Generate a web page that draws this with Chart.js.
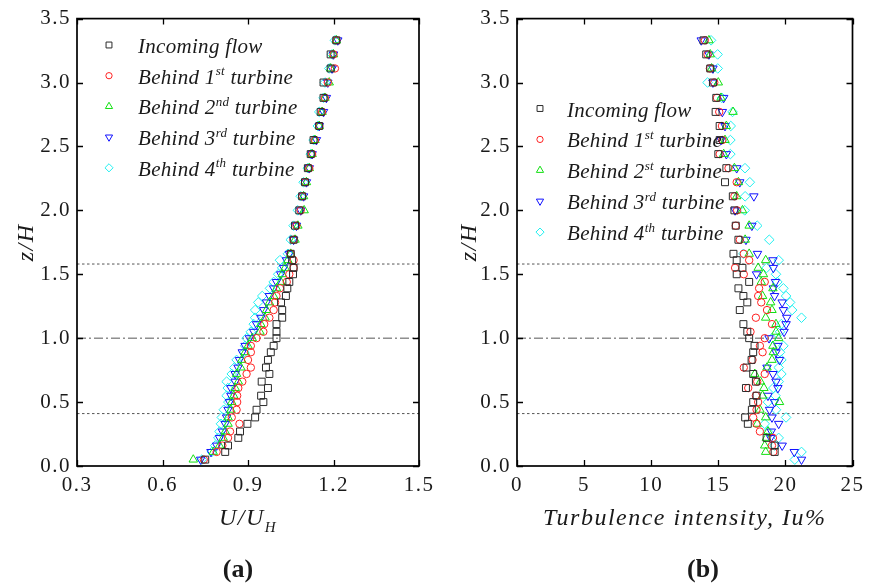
<!DOCTYPE html>
<html>
<head>
<meta charset="utf-8">
<script src="https://cdn.jsdelivr.net/npm/chart.js@4/dist/chart.umd.min.js"></script>
<style>
  html, body { margin: 0; padding: 0; background: #fff; }
  #wrap { position: relative; width: 870px; height: 584px; overflow: hidden; }
  canvas { position: absolute; top: 0; }
  #cvA { left: 0; }
  #cvB { left: 440px; }
</style>
</head>
<body>
<div id="wrap">
  <canvas id="cvA" width="440" height="584"></canvas>
  <canvas id="cvB" width="430" height="584"></canvas>
</div>
<script>
// Measurement heights (z/H), shared by every profile
const zLevels = [0.05, 0.11, 0.16, 0.22, 0.27, 0.33, 0.38, 0.44, 0.50, 0.55,
                 0.61, 0.66, 0.72, 0.77, 0.83, 0.89, 0.94, 1.00, 1.05, 1.11,
                 1.16, 1.22, 1.28, 1.33, 1.39, 1.44, 1.50, 1.55, 1.61, 1.66,
                 1.77, 1.88, 2.00, 2.11, 2.22, 2.33, 2.44, 2.55, 2.66, 2.77,
                 2.88, 3.00, 3.11, 3.22, 3.33];

// Reference heights: bottom tip, hub, top tip
const refLevels = [0.41, 1.00, 1.58];

// (a) mean velocity U/U_H
const uIncoming = [0.750, 0.820, 0.830, 0.866, 0.872, 0.898, 0.925, 0.930, 0.954, 0.946,
                   0.970, 0.948, 0.975, 0.963, 0.970, 0.980, 0.990, 1.000, 1.000, 1.000,
                   1.020, 1.020, 1.016, 1.033, 1.038, 1.045, 1.058, 1.060, 1.055, 1.050,
                   1.060, 1.065, 1.080, 1.090, 1.100, 1.110, 1.120, 1.130, 1.150, 1.155,
                   1.165, 1.165, 1.190, 1.190, 1.210];
const uTurbine1 = [0.745, 0.790, 0.810, 0.830, 0.837, 0.870, 0.843, 0.860, 0.862, 0.862,
                   0.866, 0.880, 0.895, 0.910, 0.900, 0.910, 0.910, 0.930, 0.954, 0.957,
                   0.975, 0.990, 0.995, 1.000, 1.012, 1.036, 1.045, 1.060, 1.060, 1.050,
                   1.060, 1.070, 1.085, 1.090, 1.100, 1.115, 1.125, 1.135, 1.150, 1.160,
                   1.170, 1.180, 1.205, 1.200, 1.210];
const uTurbine2 = [0.708, 0.778, 0.800, 0.813, 0.820, 0.830, 0.830, 0.840, 0.843, 0.850,
                   0.855, 0.866, 0.860, 0.875, 0.878, 0.890, 0.900, 0.915, 0.942, 0.945,
                   0.960, 0.965, 0.975, 0.990, 1.000, 1.015, 1.020, 1.030, 1.040, 1.050,
                   1.065, 1.075, 1.097, 1.095, 1.105, 1.115, 1.125, 1.135, 1.150, 1.160,
                   1.170, 1.185, 1.190, 1.200, 1.210];
const uTurbine3 = [0.734, 0.770, 0.790, 0.800, 0.810, 0.820, 0.825, 0.830, 0.835, 0.840,
                   0.840, 0.855, 0.855, 0.865, 0.870, 0.880, 0.890, 0.905, 0.920, 0.930,
                   0.945, 0.955, 0.965, 0.975, 0.990, 1.000, 1.015, 1.025, 1.035, 1.045,
                   1.060, 1.070, 1.085, 1.095, 1.105, 1.115, 1.125, 1.140, 1.150, 1.165,
                   1.175, 1.180, 1.195, 1.200, 1.215];
const uTurbine4 = [0.738, 0.773, 0.785, 0.796, 0.800, 0.805, 0.808, 0.815, 0.831, 0.825,
                   0.829, 0.825, 0.843, 0.852, 0.860, 0.887, 0.890, 0.895, 0.910, 0.920,
                   0.925, 0.925, 0.936, 0.950, 0.977, 0.990, 1.006, 1.020, 1.012, 1.040,
                   1.050, 1.060, 1.075, 1.085, 1.095, 1.110, 1.120, 1.130, 1.145, 1.150,
                   1.165, 1.170, 1.185, 1.195, 1.205];

// (b) turbulence intensity Iu (%); null = no sample at that height
const iuIncoming = [null, 19.2, 19.2, 18.6, null, 17.2, 17.0, 17.5, 17.6, 17.85,
                    17.06, 17.8, 17.6, 17.1, 17.48, 17.6, 17.7, 17.3, 17.16, 16.87,
                    null, 16.6, 17.16, 16.87, 16.5, 17.3, 16.37, 16.8, 16.37, 16.13,
                    16.5, 16.3, 16.2, 16.08, 15.5, 15.6, 15.0, 15.1, 15.1, 14.8,
                    14.85, 14.6, 14.4, 14.1, 13.9];
const iuTurbine1 = [null, 19.1, 19.0, 19.07, 18.1, 17.85, 17.6, 17.85, 17.97, 17.8,
                    17.23, 17.9, 18.46, 16.9, 17.55, 18.3, 18.1, 18.46, 17.4, 19.0,
                    17.8, 18.63, 18.2, 17.97, 18.04, 18.46, 16.9, 16.25, 17.3, 16.9,
                    16.6, 16.3, 16.4, 16.2, 16.37, 15.76, 15.1, 15.3, 15.27, 15.07,
                    14.9, 14.7, 14.37, 14.2, 14.0];
const iuTurbine2 = [null, 18.53, 18.46, 18.58, 18.7, 17.9, 18.53, 18.1, 19.56, 18.3,
                    18.4, 18.14, 17.72, 18.63, 19.0, 19.1, 19.07, 19.5, 19.3, 19.3,
                    18.53, 19.0, 18.9, 18.3, 19.07, 18.2, 18.36, 17.97, 18.53, 17.3,
                    17.0, 17.3, 16.8, 16.37, 16.5, 16.2, 15.4, 15.5, 15.6, 16.1,
                    15.2, 15.0, 14.5, 14.4, 14.3];
const iuTurbine3 = [21.2, 20.66, 19.76, 18.9, 18.95, 19.5, 19.0, 18.82, 19.19, 18.7,
                    19.44, 19.3, 19.07, 18.63, 19.56, 19.3, 19.44, 18.78, 19.9, 20.05,
                    20.1, 19.85, 19.76, 19.19, 19.1, 19.26, 17.85, 19.1, 19.07, 17.92,
                    17.06, 17.5, 16.25, 17.65, 16.6, 16.37, 15.6, 15.2, 15.5, 15.3,
                    15.4, 14.6, 14.6, 14.3, 13.73];
const iuTurbine4 = [20.7, 21.2, 19.2, 19.5, 18.7, 18.46, 20.05, 19.3, 18.7, 19.26,
                    19.1, 19.5, 19.7, 19.5, 19.7, 19.6, 19.85, 19.0, 19.6, 19.7,
                    21.2, 20.5, 20.35, 20.05, 19.85, 19.4, 19.3, 18.6, 19.5, 16.87,
                    18.8, 17.9, 16.97, 17.0, 17.35, 16.99, 15.9, 15.9, 15.93, 16.06,
                    15.27, 14.2, 14.96, 14.95, 14.46];

// Axis ticks
const uTicks = [0.3, 0.6, 0.9, 1.2, 1.5];
const iuTicks = [0, 5, 10, 15, 20, 25];
const zTicks = [0, 0.5, 1.0, 1.5, 2.0, 2.5, 3.0, 3.5];

// Legend entries: [text, superscript, text]
const legendA = [['Incoming flow', '', ''], ['Behind 1', 'st', ' turbine'], ['Behind 2', 'nd', ' turbine'],
                 ['Behind 3', 'rd', ' turbine'], ['Behind 4', 'th', ' turbine']];
const legendB = [['Incoming flow', '', ''], ['Behind 1', 'st', ' turbine'], ['Behind 2', 'st', ' turbine'],
                 ['Behind 3', 'rd', ' turbine'], ['Behind 4', 'th', ' turbine']];

const SERIF = "'Liberation Serif', 'Times New Roman', serif";
const INK = '#1a1a1a';

// Marker look of the five profiles
const markerStyles = [
  { color: '#2a2a2a', pointStyle: 'rect', rotation: 0, radius: 4.9 },
  { color: '#ff2020', pointStyle: 'circle', rotation: 0, radius: 3.7 },
  { color: '#10e010', pointStyle: 'triangle', rotation: 0, radius: 4.9 },
  { color: '#1010ff', pointStyle: 'triangle', rotation: 180, radius: 4.9 },
  { color: '#20f0f0', pointStyle: 'rectRot', rotation: 0, radius: 4.8 }
];

function toPoints(values) {
  const pts = [];
  values.forEach((v, i) => { if (v !== null) pts.push({ x: v, y: zLevels[i] }); });
  return pts;
}

function seriesDatasets(seriesList, legend) {
  return seriesList.map((vals, k) => {
    const m = markerStyles[k];
    return {
      label: legend[k].join(''),
      data: toPoints(vals),
      showLine: false,
      pointStyle: m.pointStyle,
      rotation: m.rotation,
      pointRadius: m.radius,
      pointBorderWidth: 1,
      pointBorderColor: m.color,
      pointBackgroundColor: 'rgba(0,0,0,0)',
      borderColor: m.color,
      backgroundColor: 'rgba(0,0,0,0)',
      order: 1
    };
  });
}

function refDatasets(xMin, xMax) {
  const dashes = [[2.5, 2.5], [9, 3, 2, 3], [2.5, 2.5]];
  return refLevels.map((z, i) => ({
    type: 'line',
    label: 'ref' + i,
    data: [{ x: xMin, y: z }, { x: xMax, y: z }],
    showLine: true,
    borderColor: '#555',
    borderWidth: 1,
    borderDash: dashes[i],
    pointRadius: 0,
    fill: false,
    order: 10
  }));
}

function richWidth(ctx, parts, size, style) {
  let w = 0;
  for (const [t, k] of parts) {
    ctx.font = `${style} ${k ? Math.round(size * 0.62) : size}px ${SERIF}`;
    w += ctx.measureText(t).width;
  }
  return w;
}
function drawRich(ctx, parts, x, y, size, style) {
  for (const [t, k] of parts) {
    const s = k ? Math.round(size * 0.62) : size;
    ctx.font = `${style} ${s}px ${SERIF}`;
    const dy = k === 'sup' ? -size * 0.4 : (k === 'sub' ? size * 0.3 : 0);
    ctx.fillText(t, x, y + dy);
    x += ctx.measureText(t).width;
  }
}

// Frame with inward ticks, legend with superscripts, x title and panel label
const figureDecor = {
  id: 'figureDecor',
  beforeDraw(chart) {
    // slightly open letter spacing for the tick labels and axis title
    if ('letterSpacing' in chart.ctx) chart.ctx.letterSpacing = '1.5px';
  },
  afterDraw(chart, args, o) {
    const { ctx, chartArea: a, scales } = chart;
    ctx.save();
    ctx.strokeStyle = '#000';
    ctx.lineWidth = 1.7;
    ctx.strokeRect(a.left, a.top, a.right - a.left, a.bottom - a.top);
    ctx.lineWidth = 1.3;
    ctx.beginPath();
    scales.x.ticks.forEach(t => {
      const px = Math.round(scales.x.getPixelForValue(t.value)) + 0.5;
      ctx.moveTo(px, a.bottom); ctx.lineTo(px, a.bottom - 6);
      ctx.moveTo(px, a.top); ctx.lineTo(px, a.top + 6);
    });
    scales.y.ticks.forEach(t => {
      const py = Math.round(scales.y.getPixelForValue(t.value)) + 0.5;
      ctx.moveTo(a.left, py); ctx.lineTo(a.left + 6, py);
      ctx.moveTo(a.right, py); ctx.lineTo(a.right - 6, py);
    });
    ctx.stroke();

    // legend
    if ('letterSpacing' in ctx) ctx.letterSpacing = '0.3px';
    ctx.textBaseline = 'alphabetic';
    ctx.textAlign = 'left';
    o.labels.forEach((lab, k) => {
      const m = markerStyles[k];
      const y = o.legendY + k * o.legendStep;
      ctx.strokeStyle = m.color;
      ctx.fillStyle = 'rgba(0,0,0,0)';
      ctx.lineWidth = 1;
      Chart.helpers.drawPoint(ctx, { pointStyle: m.pointStyle, rotation: m.rotation, radius: m.radius * 0.85, borderWidth: 1 }, o.legendX, y);
      ctx.fillStyle = INK;
      drawRich(ctx, [[lab[0], ''], [lab[1], 'sup'], [lab[2], '']], o.textX, y + 8, 21, 'italic');
    });

    // x-axis title
    if ('letterSpacing' in ctx) ctx.letterSpacing = '1.5px';
    const cx = (a.left + a.right) / 2;
    const w = richWidth(ctx, o.xTitle, 24, 'italic');
    drawRich(ctx, o.xTitle, cx - w / 2, o.xTitleY, 24, 'italic');

    // panel label
    if ('letterSpacing' in ctx) ctx.letterSpacing = '0px';
    ctx.font = `bold 26px ${SERIF}`;
    ctx.textAlign = 'center';
    ctx.fillText(o.panel, o.panelX, o.panelY);
    ctx.restore();
  }
};

function buildChart(canvas, cfg) {
  const tickFont = { family: SERIF, size: 21 };
  return new Chart(canvas, {
    type: 'scatter',
    data: { datasets: [...seriesDatasets(cfg.series, cfg.legend), ...refDatasets(cfg.xTicks[0], cfg.xTicks[cfg.xTicks.length - 1])] },
    options: {
      responsive: false,
      animation: false,
      devicePixelRatio: 1,
      layout: { padding: { top: 17, right: cfg.padRight, left: 0, bottom: 0 } },
      plugins: {
        legend: { display: false },
        tooltip: { enabled: false },
        figureDecor: {
          labels: cfg.legend,
          legendX: cfg.legendX, legendY: cfg.legendY, legendStep: cfg.legendStep, textX: cfg.textX,
          xTitle: cfg.xTitle, xTitleY: 525,
          panel: cfg.panel, panelX: cfg.panelX, panelY: 577
        }
      },
      scales: {
        x: {
          type: 'linear',
          min: cfg.xTicks[0],
          max: cfg.xTicks[cfg.xTicks.length - 1],
          afterBuildTicks: s => { s.ticks = cfg.xTicks.map(v => ({ value: v })); },
          afterFit: s => { s.height = 118; },
          grid: { display: false, drawTicks: false },
          border: { display: false },
          ticks: { font: tickFont, color: INK, padding: 7, autoSkip: false, maxRotation: 0,
                   callback: cfg.xFormat }
        },
        y: {
          type: 'linear',
          min: zTicks[0],
          max: zTicks[zTicks.length - 1],
          afterBuildTicks: s => { s.ticks = zTicks.map(v => ({ value: v })); },
          afterFit: s => { s.width = 77; },
          grid: { display: false, drawTicks: false },
          border: { display: false },
          ticks: { font: tickFont, color: INK, padding: 6, autoSkip: false,
                   callback: v => Number(v).toFixed(1) },
          title: { display: true, text: 'z/H', color: INK,
                   font: { family: SERIF, size: 24, style: 'italic' },
                   padding: { top: cfg.yTitlePad, bottom: 0 } }
        }
      }
    },
    plugins: [figureDecor]
  });
}

buildChart(document.getElementById('cvA'), {
  series: [uIncoming, uTurbine1, uTurbine2, uTurbine3, uTurbine4],
  legend: legendA,
  xTicks: uTicks,
  xFormat: v => Number(v).toFixed(1),
  padRight: 21,
  legendX: 109, legendY: 45, legendStep: 30.7, textX: 138,
  xTitle: [['U/U', ''], ['H', 'sub']],
  panel: '(a)', panelX: 238,
  yTitlePad: 12
});

buildChart(document.getElementById('cvB'), {
  series: [iuIncoming, iuTurbine1, iuTurbine2, iuTurbine3, iuTurbine4],
  legend: legendB,
  xTicks: iuTicks,
  xFormat: v => String(v),
  padRight: 13,
  legendX: 100, legendY: 108.5, legendStep: 30.9, textX: 127,
  xTitle: [['Turbulence intensity, Iu%', '']],
  panel: '(b)', panelX: 263,
  yTitlePad: 15
});
</script>
</body>
</html>
